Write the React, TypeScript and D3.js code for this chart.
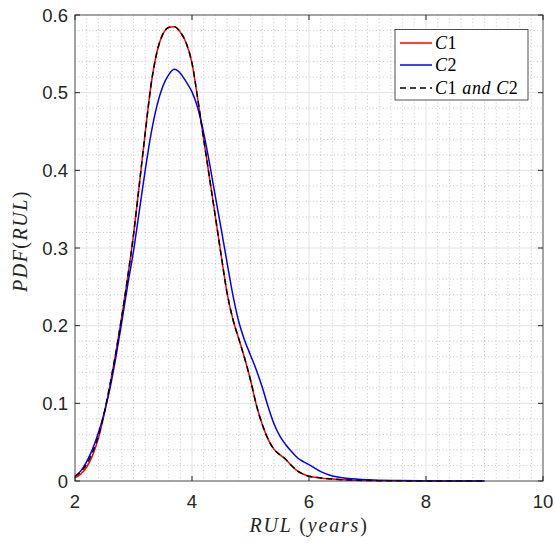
import React from "react";
import * as d3 from "d3";

const xs = [2.0,2.1,2.2,2.3,2.4,2.5,2.6,2.7,2.8,2.9,3.0,3.1,3.2,3.3,3.4,3.5,3.6,3.7,3.8,3.9,4.0,4.1,4.2,4.3,4.4,4.5,4.6,4.7,4.8,4.9,5.0,5.1,5.2,5.3,5.4,5.5,5.6,5.7,5.8,5.9,6.0,6.2,6.4,6.6,6.8,7.0,7.5,8.0,8.5,9.0];
const c1 = [0.004,0.009,0.018,0.033,0.055,0.086,0.124,0.166,0.212,0.262,0.317,0.382,0.448,0.510,0.552,0.575,0.584,0.585,0.578,0.564,0.538,0.491,0.440,0.390,0.340,0.290,0.242,0.208,0.183,0.158,0.130,0.098,0.073,0.054,0.041,0.034,0.028,0.020,0.013,0.009,0.006,0.004,0.0025,0.0015,0.001,0.0006,0.0002,0.0001,0.00005,0];
const c2 = [0.006,0.013,0.025,0.041,0.062,0.088,0.120,0.160,0.205,0.252,0.296,0.348,0.400,0.447,0.483,0.508,0.523,0.530,0.525,0.514,0.501,0.480,0.448,0.409,0.366,0.324,0.281,0.239,0.205,0.181,0.162,0.143,0.121,0.096,0.074,0.058,0.047,0.038,0.030,0.025,0.021,0.012,0.0065,0.004,0.0025,0.0015,0.0005,0.0002,0.0001,0];
const c12 = [0.006,0.012,0.022,0.037,0.058,0.088,0.125,0.166,0.212,0.262,0.317,0.382,0.448,0.510,0.552,0.575,0.584,0.585,0.578,0.564,0.538,0.491,0.440,0.390,0.340,0.290,0.242,0.208,0.183,0.158,0.130,0.098,0.073,0.054,0.041,0.034,0.028,0.020,0.013,0.009,0.006,0.004,0.0025,0.0015,0.001,0.0006,0.0002,0.0001,0.00005,0];
const xTicks = [2, 4, 6, 8, 10];
const yTicks = [0, 0.1, 0.2, 0.3, 0.4, 0.5, 0.6];

const W = 555, H = 550;
const L = 75, R = 543, T = 15, B = 481;
const axisColor = "#262626";

export default function App() {
  const x = d3.scaleLinear().domain([2, 10]).range([L, R]);
  const y = d3.scaleLinear().domain([0, 0.6]).range([B, T]);
  const line = (vals: number[]) =>
    d3.line<number>().x((_, i) => x(xs[i])).y((d) => y(d)).curve(d3.curveMonotoneX)(vals) || "";

  const minorX = d3.range(2, 10.001, 0.2).filter((v) => Math.abs(v / 2 - Math.round(v / 2)) > 1e-6);
  const minorY = d3.range(0, 0.6001, 0.02).filter((v) => Math.abs(v * 10 - Math.round(v * 10)) > 1e-6);

  const serif = "'Liberation Serif', 'DejaVu Serif', serif";
  const sans = "'Liberation Sans', Arial, Helvetica, sans-serif";

  return (
    <svg width={W} height={H} style={{ position: "absolute", left: 0, top: 0, background: "#fff" }}>
      <rect x={0} y={0} width={W} height={H} fill="#fff" />
      {minorX.map((v) => (
        <line key={"mx" + v} x1={x(v)} x2={x(v)} y1={T} y2={B} stroke="#b0b0b0" strokeWidth={0.7} strokeDasharray="1,2.5" />
      ))}
      {minorY.map((v) => (
        <line key={"my" + v} x1={L} x2={R} y1={y(v)} y2={y(v)} stroke="#b0b0b0" strokeWidth={0.7} strokeDasharray="1,2.5" />
      ))}
      {xTicks.map((v) => (
        <line key={"gx" + v} x1={x(v)} x2={x(v)} y1={T} y2={B} stroke="#e3e3e3" strokeWidth={1} />
      ))}
      {yTicks.map((v) => (
        <line key={"gy" + v} x1={L} x2={R} y1={y(v)} y2={y(v)} stroke="#e3e3e3" strokeWidth={1} />
      ))}
      <path d={line(c1)} fill="none" stroke="#ff0000" strokeWidth={1.5} />
      <path d={line(c2)} fill="none" stroke="#0000ff" strokeWidth={1.5} />
      <path d={line(c12)} fill="none" stroke="#000" strokeWidth={1.5} strokeDasharray="6,4" />
      <rect x={L} y={T} width={R - L} height={B - T} fill="none" stroke={axisColor} strokeWidth={1} opacity={0.75} />
      {xTicks.map((v) => (
        <g key={"tx" + v}>
          <line x1={x(v)} x2={x(v)} y1={B} y2={B - 5} stroke={axisColor} />
          <line x1={x(v)} x2={x(v)} y1={T} y2={T + 5} stroke={axisColor} />
          <text x={x(v)} y={B + 27} textAnchor="middle" fontFamily={sans} fontSize={18.5} fill={axisColor}>
            {String(v)}
          </text>
        </g>
      ))}
      {yTicks.map((v) => (
        <g key={"ty" + v}>
          <line x1={L} x2={L + 5} y1={y(v)} y2={y(v)} stroke={axisColor} />
          <line x1={R} x2={R - 5} y1={y(v)} y2={y(v)} stroke={axisColor} />
          <text x={L - 7} y={y(v) + 6.5} textAnchor="end" fontFamily={sans} fontSize={18.5} fill={axisColor}>
            {v === 0 ? "0" : v.toFixed(1)}
          </text>
        </g>
      ))}
      <text x={(L + R) / 2} y={532} textAnchor="middle" fontFamily={serif} fontSize={20} letterSpacing={1.8} fill={axisColor}>
        <tspan fontStyle="italic">RUL</tspan>
        <tspan> (</tspan>
        <tspan fontStyle="italic">years</tspan>
        <tspan>)</tspan>
      </text>
      <text transform={`translate(27, 241) rotate(-90)`} textAnchor="middle" fontFamily={serif} fontSize={20} letterSpacing={1.5} fill={axisColor}>
        <tspan fontStyle="italic">PDF</tspan>
        <tspan>(</tspan>
        <tspan fontStyle="italic">RUL</tspan>
        <tspan>)</tspan>
      </text>
      <g>
        <rect x={395} y={29.5} width={133} height={70.5} fill="#fff" stroke={axisColor} strokeWidth={0.8} />
        {[
          { label: "1", color: "#ff0000", dash: "", both: false, yy: 43 },
          { label: "2", color: "#0000ff", dash: "", both: false, yy: 65 },
          { label: "", color: "#000", dash: "6,4", both: true, yy: 88 },
        ].map((it, i) => (
          <g key={"lg" + i}>
            <line x1={400} x2={432} y1={it.yy} y2={it.yy} stroke={it.color} strokeWidth={1.5} strokeDasharray={it.dash} />
            <text x={435} y={it.yy + 6} fontFamily={serif} fontSize={18} letterSpacing={0.6} fill="#000">
              {it.both ? (
                <>
                  <tspan fontStyle="italic">C</tspan>
                  <tspan>1 </tspan>
                  <tspan fontStyle="italic">and </tspan>
                  <tspan fontStyle="italic">C</tspan>
                  <tspan>2</tspan>
                </>
              ) : (
                <>
                  <tspan fontStyle="italic">C</tspan>
                  <tspan>{it.label}</tspan>
                </>
              )}
            </text>
          </g>
        ))}
      </g>
    </svg>
  );
}
